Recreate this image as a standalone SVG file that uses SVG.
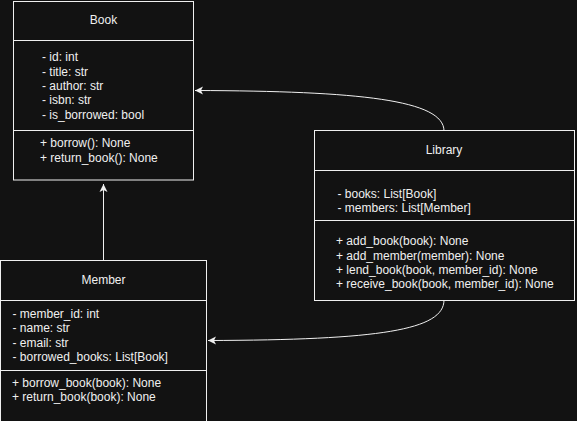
<svg xmlns="http://www.w3.org/2000/svg" width="577" height="421" viewBox="0 0 577 421">
<style>
.box{fill:#121212;stroke:#f0f0f0;stroke-width:1}
.div{stroke:#f0f0f0;stroke-width:1}
.t{font-family:"Liberation Sans",Arial,sans-serif;font-size:12px;fill:#f0f0f0}
.c{text-anchor:middle}
.edge{fill:none;stroke:#f0f0f0;stroke-width:1}
</style>
<defs>
<marker id="arr" markerWidth="10" markerHeight="10" refX="8" refY="5" orient="auto" markerUnits="userSpaceOnUse">
<path d="M0,1 L8,5 L0,9 L2,5 Z" fill="#f0f0f0"/>
</marker>
</defs>
<rect width="577" height="421" fill="#121212"/>
<g id="connectors">
<path class="edge" d="M103.5,260 L103.5,184" marker-end="url(#arr)"/>
<path class="edge" d="M444,131 C444,100 360,91 195,90.5" marker-end="url(#arr)"/>
<path class="edge" d="M444,300 C444,330 380,340 208,340.5" marker-end="url(#arr)"/>
</g>
<g id="book">
<rect class="box" x="13.5" y="1.5" width="180" height="178.5"/>
<line class="div" x1="13.5" y1="40.5" x2="193.5" y2="40.5"/>
<line class="div" x1="13.5" y1="130.5" x2="193.5" y2="130.5"/>
<text class="t c" x="103.5" y="24">Book</text>
<text class="t" x="42" y="61">- id: int</text>
<text class="t" x="42" y="75.5">- title: str</text>
<text class="t" x="42" y="89.5">- author: str</text>
<text class="t" x="42" y="104">- isbn: str</text>
<text class="t" x="42" y="118.5">- is_borrowed: bool</text>
<text class="t" x="40" y="147">+ borrow(): None</text>
<text class="t" x="40" y="161.5">+ return_book(): None</text>
</g>
<g id="library">
<rect class="box" x="314.5" y="130.5" width="260" height="170"/>
<line class="div" x1="314.5" y1="170.5" x2="574.5" y2="170.5"/>
<line class="div" x1="314.5" y1="220.5" x2="574.5" y2="220.5"/>
<text class="t c" x="444" y="154">Library</text>
<text class="t" x="337.5" y="197.5">- books: List[Book]</text>
<text class="t" x="337.5" y="212">- members: List[Member]</text>
<text class="t" x="336" y="245">+ add_book(book): None</text>
<text class="t" x="336" y="259.5">+ add_member(member): None</text>
<text class="t" x="336" y="274">+ lend_book(book, member_id): None</text>
<text class="t" x="336" y="288">+ receive_book(book, member_id): None</text>
</g>
<g id="member">
<rect class="box" x="0.5" y="260.5" width="206" height="170"/>
<line class="div" x1="0.5" y1="300.5" x2="206.5" y2="300.5"/>
<line class="div" x1="0.5" y1="370.5" x2="206.5" y2="370.5"/>
<text class="t c" x="103.5" y="284">Member</text>
<text class="t" x="12.5" y="317.5">- member_id: int</text>
<text class="t" x="12.5" y="332">- name: str</text>
<text class="t" x="12.5" y="346.5">- email: str</text>
<text class="t" x="12.5" y="361">- borrowed_books: List[Book]</text>
<text class="t" x="12" y="386.5">+ borrow_book(book): None</text>
<text class="t" x="12" y="401">+ return_book(book): None</text>
</g>
</svg>
